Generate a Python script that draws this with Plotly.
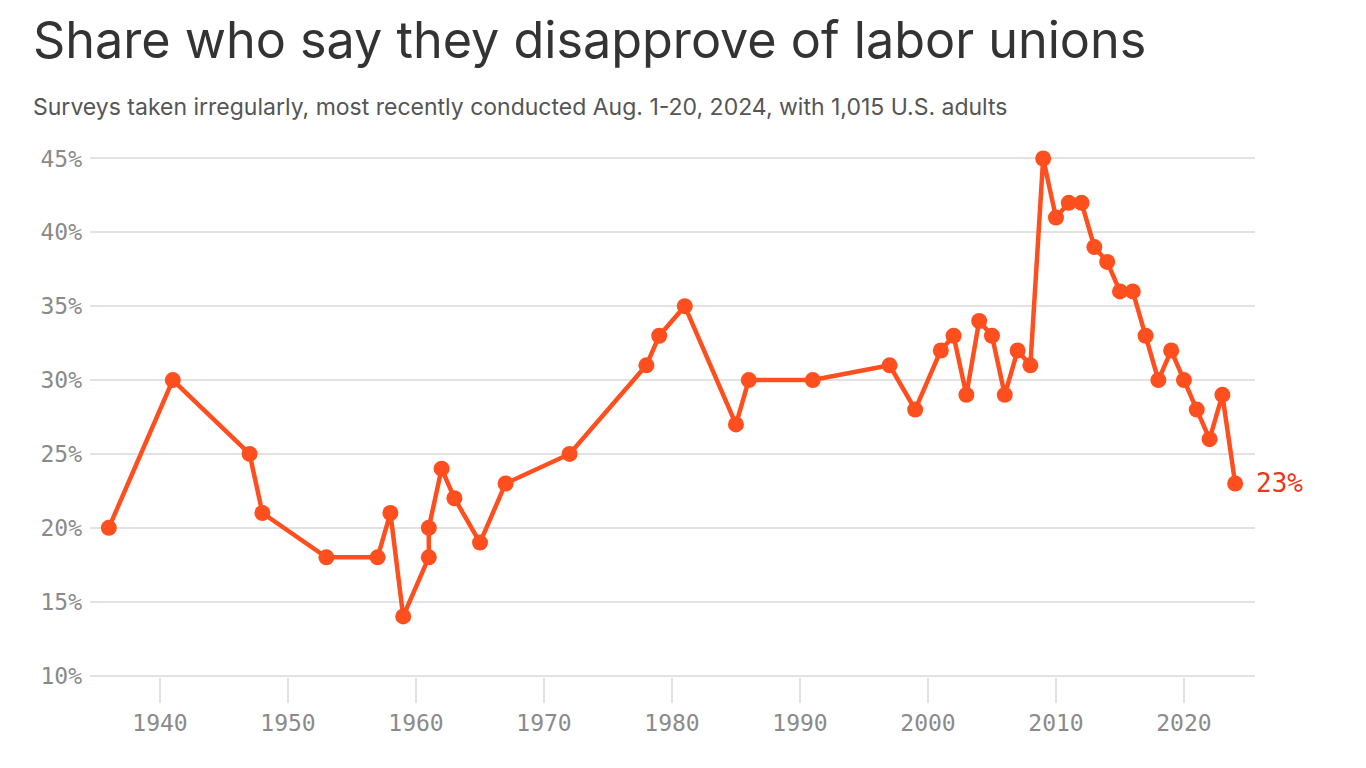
import plotly.graph_objects as go

years = [1936, 1941, 1947, 1948, 1953, 1957, 1958, 1959, 1961, 1961, 1962, 1963, 1965, 1967,
         1972, 1978, 1979, 1981, 1985, 1986, 1991, 1997, 1999, 2001, 2002, 2003, 2004, 2005,
         2006, 2007, 2008, 2009, 2010, 2011, 2012, 2013, 2014, 2015, 2016, 2017, 2018, 2019,
         2020, 2021, 2022, 2023, 2024]
disapprove = [20, 30, 25, 21, 18, 18, 21, 14, 18, 20, 24, 22, 19, 23,
              25, 31, 33, 35, 27, 30, 30, 31, 28, 32, 33, 29, 34, 33,
              29, 32, 31, 45, 41, 42, 42, 39, 38, 36, 36, 33, 30, 32,
              30, 28, 26, 29, 23]

x_ticks = [1940, 1950, 1960, 1970, 1980, 1990, 2000, 2010, 2020]
y_ticks = [10, 15, 20, 25, 30, 35, 40, 45]
y_tick_labels = [f"{v}%" for v in y_ticks]

title = "Share who say they disapprove of labor unions"
subtitle = "Surveys taken irregularly, most recently conducted Aug. 1-20, 2024, with 1,015 U.S. adults"
last_label = f"{disapprove[-1]}%"

LINE = "#ff4f1f"
MONO = "DejaVu Sans Mono"

L, R, T, B = 90, 1255, 157, 677
W, H = 1366, 768

def px(x):
    return (x - L) / (R - L)

def py(y):
    return (B - y) / (B - T)

fig = go.Figure()
fig.add_trace(go.Scatter(
    x=years, y=disapprove, mode="lines+markers",
    line=dict(color=LINE, width=4.5),
    marker=dict(color=LINE, size=16),
    cliponaxis=False, hoverinfo="x+y", showlegend=False,
))

fig.update_layout(
    width=W, height=H,
    margin=dict(l=L, r=W - R, t=T, b=H - B),
    paper_bgcolor="white", plot_bgcolor="white",
    xaxis=dict(
        range=[1934.53, 2025.55], tickvals=x_ticks, ticktext=[str(v) for v in x_ticks],
        showgrid=False, zeroline=False, showline=False,
        ticks="outside", ticklen=25, tickwidth=2, tickcolor="#e2e2e2",
        tickfont=dict(family=MONO, size=23, color="#8a8a8a"),
    ),
    yaxis=dict(
        range=[9.9, 45.1], tickvals=y_ticks, ticktext=y_tick_labels,
        showgrid=True, gridcolor="#e2e2e2", gridwidth=2, zeroline=False, showline=False,
        ticks="", ticklabelstandoff=7,
        tickfont=dict(family=MONO, size=23, color="#8a8a8a"),
    ),
    annotations=[
        dict(text=title, xref="paper", yref="paper", x=px(31), y=py(40),
             xanchor="left", yanchor="middle", showarrow=False,
             font=dict(family="Inter", size=50.3, color="#333333")),
        dict(text=subtitle, xref="paper", yref="paper", x=px(31), y=py(107),
             xanchor="left", yanchor="middle", showarrow=False,
             font=dict(family="Inter", size=23, color="#555555")),
        dict(text=last_label, x=years[-1], y=disapprove[-1], xref="x", yref="y",
             xanchor="left", yanchor="middle", xshift=19, showarrow=False,
             font=dict(family=MONO, size=26, color="#e8391a")),
    ],
)

fig.write_html("out.html")
